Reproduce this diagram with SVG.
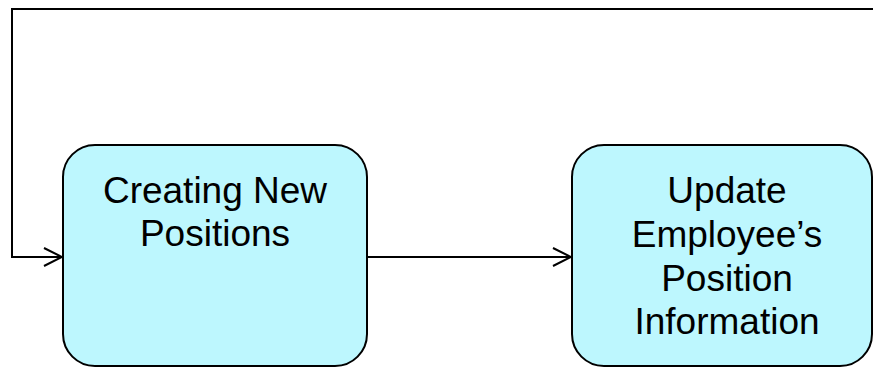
<svg xmlns="http://www.w3.org/2000/svg" width="873" height="368" viewBox="0 0 873 368">
<style>
.node rect{fill:#BDF7FE;stroke:#000;stroke-width:2}
.node text{font-family:"Liberation Sans",Arial,sans-serif;font-size:37px;fill:#000;text-anchor:middle}
.conn path{fill:none;stroke:#000;stroke-width:2}
</style>
<defs>
<marker id="arr" viewBox="0 0 20 20" refX="19" refY="10" markerWidth="20" markerHeight="20" markerUnits="userSpaceOnUse" orient="auto">
<path d="M1,1 L19,10 L1,19" fill="none" stroke="#000" stroke-width="2"/>
</marker>
</defs>
<g id="creating-new-positions" class="node">
<rect x="63" y="145" width="304" height="221" rx="32" ry="32"/>
<text x="215" y="203">Creating New</text>
<text x="215" y="246">Positions</text>
</g>
<g id="update-employee-position" class="node">
<rect x="572" y="145" width="300" height="221" rx="32" ry="32"/>
<text x="727" y="203">Update</text>
<text x="727" y="247">Employee’s</text>
<text x="727" y="290.5">Position</text>
<text x="727" y="334">Information</text>
</g>
<g id="connectors" class="conn">
<path d="M874,9 L12,9 L12,257 L62,257" marker-end="url(#arr)"/>
<path d="M367,257 L571,257" marker-end="url(#arr)"/>
</g>
</svg>
